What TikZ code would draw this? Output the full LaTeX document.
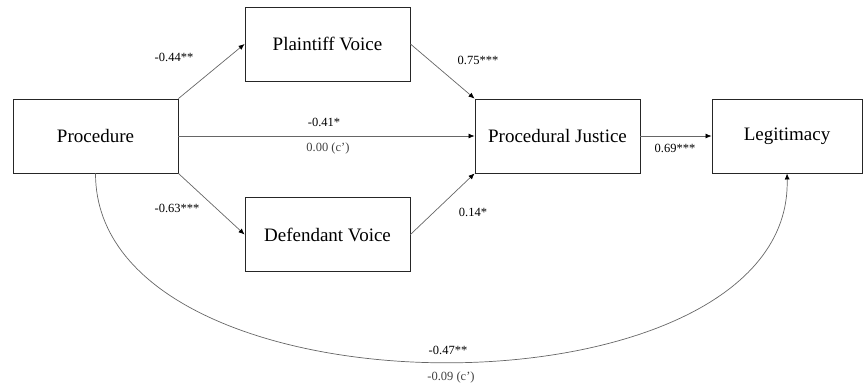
\documentclass[tikz,border=0pt]{standalone}
\usepackage{fontspec}
\setmainfont{Liberation Serif}
\usetikzlibrary{arrows.meta}
\begin{document}
\begin{tikzpicture}[x=1pt,y=-1pt]
\tikzstyle{box}=[draw=black!85, line width=0.9pt, minimum width=165pt, minimum height=74pt, font=\fontsize{19}{21}\selectfont]
\tikzstyle{link}=[-{Latex[color=black,length=6pt,width=5pt]}, draw=black!60, line width=0.7pt]
\tikzstyle{coef}=[font=\fontsize{12.5}{14}\selectfont, inner sep=1pt]
\tikzstyle{cprime}=[coef, text=black!75]
\useasboundingbox (0,0) rectangle (866,384);
%
\node[box] at (95.5,136) (P) {Procedure};
\node[box] at (327.5,44) (PV) {Plaintiff Voice};
\node[box] at (327.5,234.5) (DV) {Defendant Voice};
\node[box] at (557.5,136) (PJ) {Procedural Justice};
\node[box, minimum width=150pt] at (787,136) (L) {Legitimacy};
%
\node[coef] at (174,57) (pv) {-0.44**};
\node[coef] at (478,60) (pjpv) {0.75***};
\node[coef] at (324,122) (pj) {-0.41*};
\node[cprime] at (328,148) (pjc) {0.00 (c’)};
\node[coef] at (177,208) (dv) {-0.63***};
\node[coef] at (473,212) (pjdv) {0.14*};
\node[coef] at (675,148) (lpj) {0.69***};
\node[coef] at (448,350) (l) {-0.47**};
\node[cprime] at (451,377) (lc) {-0.09 (c’)};
%
\draw[link] (P.north east) -- (PV.west);
\draw[link] (P.south east) -- (DV.west);
\draw[link] (P.east) -- (PJ.west);
\draw[link] (PV.east) -- (PJ.north west);
\draw[link] (DV.east) -- (PJ.south west);
\draw[link] (PJ.east) -- (L.west);
\draw[link] (P.south) .. controls (95.5,425) and (794,425) .. (L.south);
\end{tikzpicture}
\end{document}
